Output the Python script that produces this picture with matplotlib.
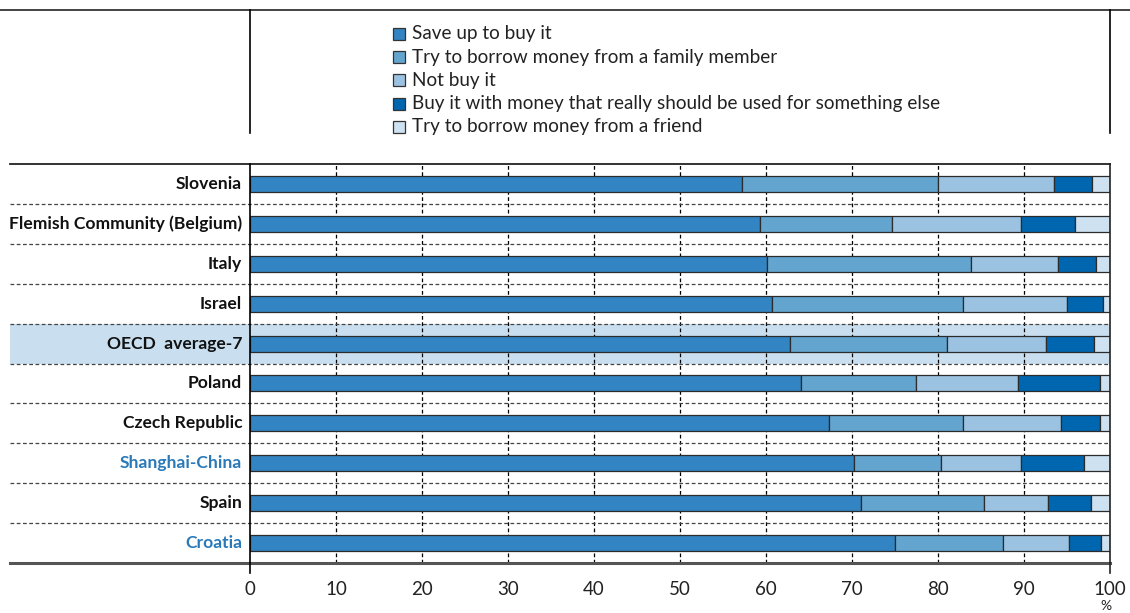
import matplotlib.pyplot as plt
from matplotlib.patches import Rectangle
from matplotlib.lines import Line2D

plt.rcParams['font.family'] = ['Lato', 'DejaVu Sans']

countries = ['Slovenia', 'Flemish Community (Belgium)', 'Italy', 'Israel', 'OECD  average-7',
             'Poland', 'Czech Republic', 'Shanghai-China', 'Spain', 'Croatia']
series_names = ['Save up to buy it',
                'Try to borrow money from a family member',
                'Not buy it',
                'Buy it with money that really should be used for something else',
                'Try to borrow money from a friend']
save_up = [57.2, 59.3, 60.1, 60.7, 62.8, 64.1, 67.3, 70.2, 71.1, 75.0]
borrow_family = [22.8, 15.4, 23.7, 22.2, 18.2, 13.3, 15.6, 10.1, 14.2, 12.5]
not_buy = [13.5, 14.9, 10.2, 12.1, 11.6, 11.9, 11.4, 9.4, 7.5, 7.7]
other_money = [4.4, 6.3, 4.4, 4.2, 5.5, 9.5, 4.5, 7.3, 5.0, 3.8]
borrow_friend = [2.1, 4.1, 1.6, 0.8, 1.9, 1.2, 1.2, 3.0, 2.2, 1.0]
partners = ['Shanghai-China', 'Croatia']
average = 'OECD  average-7'

colors = ['#3384c2', '#64a5d0', '#9cc2e2', '#0066b0', '#cde1f0']
label_blue = '#2a7ab9'

W, H = 1130, 613
fig = plt.figure(figsize=(W / 100, H / 100), dpi=100)
# plot area: x 250..1110 px, y 164..563 px
ax = fig.add_axes([250 / W, (H - 563) / H, 860 / W, 399 / H])
n = len(countries)
ax.set_xlim(0, 100)
ax.set_ylim(n - 0.5, -0.5)

left_data = (10 - 250) / 8.6  # where the row lines start, in data units

# highlight the OECD average row
i_avg = countries.index(average)
ax.add_patch(Rectangle((left_data, i_avg - 0.5), 100 - left_data, 1.0,
                       facecolor='#c9dff0', edgecolor='none', clip_on=False, zorder=0))

# vertical gridlines
for x in range(10, 100, 10):
    ax.plot([x, x], [n - 0.5, -0.5], color='black', lw=0.9, ls=(0, (3, 2)), zorder=1)

# row separators
for k in range(1, n):
    ax.plot([left_data, 100], [k - 0.5, k - 0.5], color='#444444', lw=0.9,
            ls=(0, (3, 2)), clip_on=False, zorder=1)

data = [save_up, borrow_family, not_buy, other_money, borrow_friend]
left = [0.0] * n
for vals, col in zip(data, colors):
    ax.barh(range(n), vals, left=left, height=0.4, color=col, edgecolor='#2b2b2b',
            linewidth=0.9, zorder=3)
    left = [a + b for a, b in zip(left, vals)]

for sp in ax.spines.values():
    sp.set_visible(False)

# top and bottom frame lines extending into label area
ax.plot([left_data, 100], [-0.5, -0.5], color='#222222', lw=1.3, clip_on=False, zorder=4)
ax.plot([left_data, 100], [n - 0.5, n - 0.5], color='#555555', lw=2.2, clip_on=False, zorder=4)
ax.plot([0, 0], [n - 0.5 + 0.25, -0.5], color='black', lw=1.2, clip_on=False, zorder=4)
ax.plot([100, 100], [n - 0.5 + 0.25, -0.5], color='#222222', lw=1.2, clip_on=False, zorder=4)

ax.set_yticks([])
ax.set_xticks(range(0, 101, 10))
ax.tick_params(axis='x', length=0, pad=13, labelsize=13.5, labelcolor='#222222')

for i, c in enumerate(countries):
    col = label_blue if c in partners else '#111111'
    ax.text(-0.9, i, c, ha='right', va='center', fontsize=12.6, fontweight='bold', color=col)

fig.text(1106 / W, 1 - 606 / H, '%', ha='center', va='center', fontsize=10, color='#222222')

# legend area lines
fig.add_artist(Line2D([0, 1], [1 - 10 / H, 1 - 10 / H], color='#222222', lw=1.2))
fig.add_artist(Line2D([250 / W, 250 / W], [1 - 10 / H, 1 - 133 / H], color='black', lw=1.2))
fig.add_artist(Line2D([1110 / W, 1110 / W], [1 - 10 / H, 1 - 133 / H], color='black', lw=1.2))

# legend
for j, (name, col) in enumerate(zip(series_names, colors)):
    yc = 34 + j * 23.2
    fig.add_artist(Rectangle((393 / W, 1 - (yc + 6) / H), 12 / W, 12 / H, facecolor=col,
                             edgecolor='#333333', lw=0.9, transform=fig.transFigure))
    fig.text(412 / W, 1 - yc / H, name, ha='left', va='center', fontsize=13.6, color='#222222')

fig.savefig('out.png', dpi=100)
